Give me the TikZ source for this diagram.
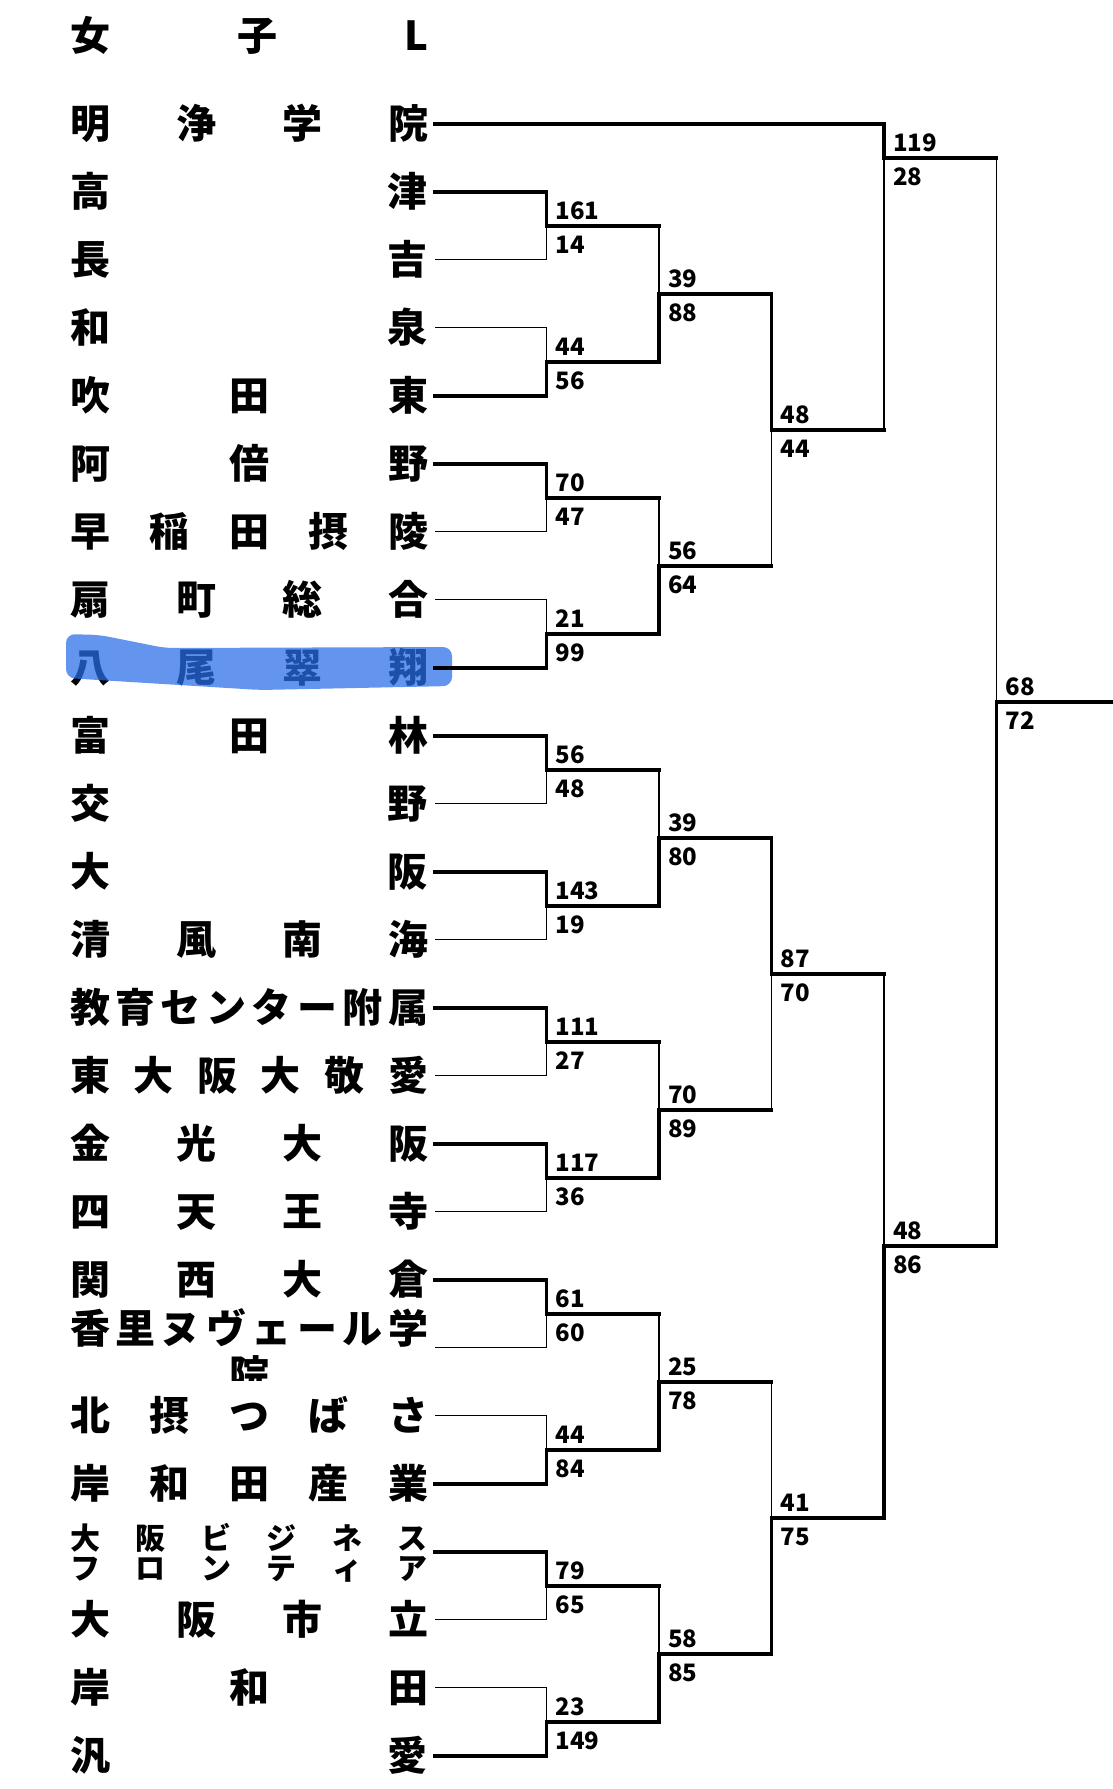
\documentclass[tikz,border=0pt]{standalone}
\usepackage{fontspec}
\setmainfont{Noto Sans CJK JP}
\definecolor{hiblue}{RGB}{41,110,233}

% spread the letters of a name over the name column
\newcommand\dist[1]{\makebox[358pt][s]{\distfirst#1\relax}}
\def\distfirst#1{#1\distloop}
\def\distloop#1{\ifx#1\relax\else\hfill#1\expandafter\distloop\fi}
\newcommand\namefont{\fontsize{40}{40}\selectfont\bfseries}
\newcommand\smallnamefont{\fontsize{30}{30}\selectfont\bfseries}
\newcommand\scorefont{\fontsize{24}{24}\selectfont\bfseries}

\begin{document}
\begin{tikzpicture}[x=1pt, y=-1pt, every node/.style={inner sep=0pt, outer sep=0pt},
    team/.style={anchor=base west, font=\namefont},
    score/.style={anchor=base west, font=\scorefont},
    won/.style={line width=3.6pt, line cap=rect},
    lost/.style={line width=1.3pt},
    hilite/.style={fill=hiblue, fill opacity=0.73}]
    \useasboundingbox (0,0) rectangle (1112,1789);

    % Row y-coordinates
    \def\ytop{123.7}
    \def\ystep{68}

    \node[team] (title) at (70,50.5) {\dist{女子L}};

    % Team names, one row each
    \foreach \i/\nm in {0/明浄学院, 1/高津, 2/長吉, 3/和泉, 4/吹田東, 5/阿倍野,
        6/早稲田摂陵, 7/扇町総合, 8/八尾翠翔, 9/富田林, 10/交野, 11/大阪,
        12/清風南海, 13/教育センター附属, 14/東大阪大敬愛, 15/金光大阪,
        16/四天王寺, 17/関西大倉, 19/北摂つばさ, 20/岸和田産業,
        22/大阪市立, 23/岸和田, 24/汎愛} {
      \node[team] (t\i) at (70,{\ytop+\ystep*\i+15}) {\expandafter\dist\expandafter{\nm}};
    }
    % names that need two lines
    \node[team] (t18) at (70,{\ytop+\ystep*18-4.5}) {\dist{香里ヌヴェール学}};
    \begin{scope}
      \clip (0,1350) rectangle (1112,1380);
      \node[team, anchor=base] (t18b) at (249,1389) {院};
    \end{scope}
    \node[team, font=\smallnamefont] (t21) at (70,{\ytop+\ystep*21-2}) {\dist{大阪ビジネス}};
    \node[team, font=\smallnamefont] (t21b) at (70,{\ytop+\ystep*21+28}) {\dist{フロンティア}};

    % marker stroke
    \fill[hilite, rounded corners=9pt] (66,634) -- (100,635) -- (165,648) -- (452,647)
      -- (452,686) -- (260,690) -- (66,678) -- cycle;

    % Line starts and match joins
    \foreach \i in {0,...,24}
      \coordinate (s\i) at (435,{\ytop+\ystep*\i});
    \foreach \k in {1,...,12}
      \coordinate (a\k) at (546.5,{\ytop+\ystep*(2*\k-0.5)});
    \foreach \k in {1,...,6}
      \coordinate (b\k) at (659,{\ytop+\ystep*(4*\k-1.5)});
    \foreach \k in {1,...,3}
      \coordinate (c\k) at (771.5,{\ytop+\ystep*(8*\k-3.5)});
    \coordinate (d1) at (884,{\ytop+\ystep*0.5});
    \coordinate (d2) at (884,{\ytop+\ystep*16.5});
    \coordinate (f) at (996.5,{\ytop+\ystep*8.5});
    \coordinate (out) at (1112,{\ytop+\ystep*8.5});

    % match/upper/lower/winner/next/upper score/lower score
    \foreach \m/\u/\l/\w/\p/\su/\sl in {
        a1/s1/s2/1/b1/161/14, a2/s3/s4/2/b1/44/56, a3/s5/s6/1/b2/70/47,
        a4/s7/s8/2/b2/21/99, a5/s9/s10/1/b3/56/48, a6/s11/s12/1/b3/143/19,
        a7/s13/s14/1/b4/111/27, a8/s15/s16/1/b4/117/36, a9/s17/s18/1/b5/61/60,
        a10/s19/s20/2/b5/44/84, a11/s21/s22/1/b6/79/65, a12/s23/s24/2/b6/23/149,
        b1/a1/a2/2/c1/39/88, b2/a3/a4/2/c1/56/64, b3/a5/a6/2/c2/39/80,
        b4/a7/a8/2/c2/70/89, b5/a9/a10/2/c3/25/78, b6/a11/a12/2/c3/58/85,
        c1/b1/b2/1/d1/48/44, c2/b3/b4/1/d2/87/70, c3/b5/b6/2/d2/41/75,
        d1/s0/c1/1/f/119/28, d2/c2/c3/2/f/48/86, f/d1/d2/2/out/68/72} {
      \ifnum\w=1
        \draw[lost] (\l) -| (\m);
        \draw[won] (\u) -| (\m);
      \else
        \draw[lost] (\u) -| (\m);
        \draw[won] (\l) -| (\m);
      \fi
      \draw[won] (\m) -- (\m -| \p);
      \node[score] (\m-up) at ([shift={(9,-6.7)}]\m) {\su};
      \node[score] (\m-dn) at ([shift={(9,27.3)}]\m) {\sl};
    }
\end{tikzpicture}
\end{document}
